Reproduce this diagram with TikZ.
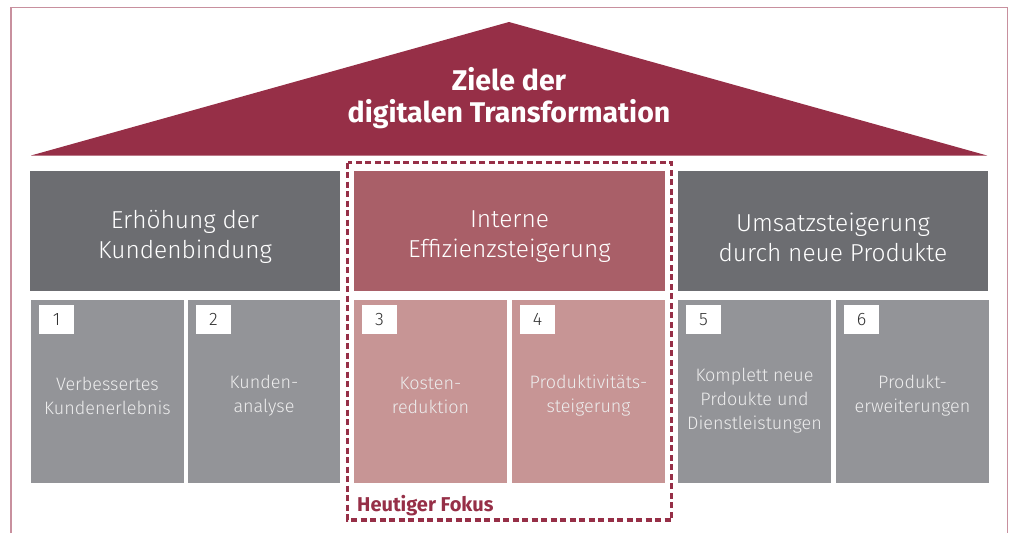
\documentclass[tikz,border=0pt]{standalone}
\usepackage{fontspec}
\setmainfont{Fira Sans}
\newfontfamily\lightfont{Fira Sans Light}
\definecolor{wine}{HTML}{962F47}
\definecolor{framec}{HTML}{C8909E}
\definecolor{headgray}{HTML}{6C6D71}
\definecolor{lowgray}{HTML}{939498}
\definecolor{headrose}{HTML}{A95F68}
\definecolor{lowrose}{HTML}{C79595}
\definecolor{lowtext}{HTML}{EDEDED}
\definecolor{numc}{HTML}{333333}
\tikzset{
  headbox/.style={fill=headgray, inner sep=0pt, minimum height=120pt},
  headtext/.style={text=white, font=\lightfont\fontsize{24.5}{30}\selectfont, align=center, inner sep=0pt},
  lowbox/.style={fill=lowgray, inner sep=0pt, minimum height=183pt},
  lowtext/.style={text=lowtext, font=\lightfont\fontsize{18}{24}\selectfont, align=center, inner sep=0pt},
  numbox/.style={fill=white, text=numc, font=\lightfont\fontsize{18}{20}\selectfont, minimum width=35pt, minimum height=29pt, inner sep=0pt, anchor=north west},
}
\begin{document}
\begin{tikzpicture}[x=1pt,y=-1pt]
\useasboundingbox (0,0) rectangle (1012,533);
% frame
\draw[framec, line width=1.5pt] (11,533) -- (11,7.5) -- (1007.5,7.5) -- (1007.5,533);
% roof
\fill[wine] (31,155.5) -- (509,22) -- (987,155.5) -- cycle;
\node[text=white, font=\fontsize{28.5}{32}\selectfont\bfseries, align=center] (goal) at (509,98) {Ziele der\\digitalen Transformation};
% header boxes
\node[headbox, minimum width=310pt] (h1) at (185,231) {};
\node[headbox, fill=headrose, minimum width=311pt] (h2) at (509.5,231) {};
\node[headbox, minimum width=310pt] (h3) at (833,231) {};
\node[headtext] (ht1) at ([yshift=-6pt]h1.center) {Erhöhung der\\Kundenbindung};
\node[headtext] (ht2) at ([yshift=-6pt]h2.center) {Interne\\Effizienzsteigerung};
\node[headtext] (ht3) at ([yshift=-6pt]h3.center) {Umsatzsteigerung\\durch neue Produkte};
% lower boxes
\node[lowbox, minimum width=153pt] (b1) at (107.5,391.5) {};
\node[lowbox, minimum width=152pt] (b2) at (264,391.5) {};
\node[lowbox, fill=lowrose, minimum width=153pt] (b3) at (430.5,391.5) {};
\node[lowbox, fill=lowrose, minimum width=153pt] (b4) at (588.5,391.5) {};
\node[lowbox, minimum width=153pt] (b5) at (754.5,391.5) {};
\node[lowbox, minimum width=153pt] (b6) at (912.5,391.5) {};
\node[lowtext] (t1) at ([yshift=-4pt]b1.center) {Verbessertes\\Kundenerlebnis};
\node[lowtext] (t2) at ([yshift=-4pt]b2.center) {Kunden-\\analyse};
\node[lowtext] (t3) at ([yshift=-4pt]b3.center) {Kosten-\\reduktion};
\node[lowtext] (t4) at ([yshift=-4pt]b4.center) {Produktivitäts-\\steigerung};
\node[lowtext] (t5) at ([yshift=-9pt]b5.center) {Komplett neue\\Prdoukte und\\Dienstleistungen};
\node[lowtext] (t6) at ([yshift=-4pt]b6.center) {Produkt-\\erweiterungen};
% number boxes
\foreach \b/\n in {b1/1,b2/2,b3/3,b4/4,b5/5,b6/6}{
  \node[numbox] (n\n) at ([xshift=8pt,yshift=-5pt]\b.north west) {\n};
}
% focus
\draw[wine, line width=3.5pt, dash pattern=on 6pt off 3.5pt] (347.5,162.5) rectangle (671.5,520);
\node[text=wine, font=\fontsize{20}{22}\selectfont\bfseries, anchor=base west, inner sep=0pt] (focus) at (357,511) {Heutiger Fokus};
\end{tikzpicture}
\end{document}
